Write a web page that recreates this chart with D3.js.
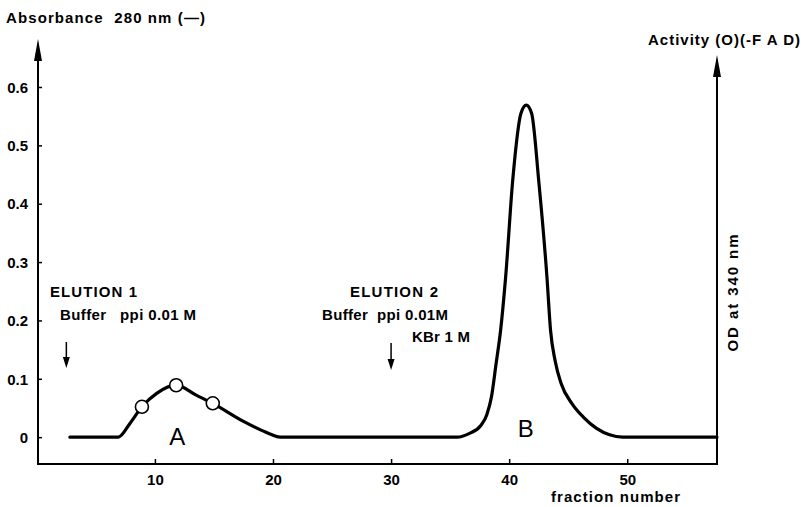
<!DOCTYPE html>
<html>
<head>
<meta charset="utf-8">
<script src="https://cdnjs.cloudflare.com/ajax/libs/d3/7.8.5/d3.min.js"></script>
<style>
  body { margin: 0; background: #fff; }
  text { font-family: "Liberation Sans", Arial, sans-serif; font-weight: bold; fill: #000; white-space: pre; }
</style>
</head>
<body>
<svg width="803" height="507"></svg>
<script>
// absorbance at 280 nm
var fractions  = [2.8, 6.9, 7.9, 8.9, 10.15, 11.8, 13.5, 14.9, 17.5, 19.7, 20.6,
                  35.6, 36.6, 37.6, 38.1, 38.5, 38.9, 39.28, 39.7, 40.3, 41.0, 41.45, 41.9, 42.5, 43.2, 43.5, 43.9,
                  44.4, 45.3, 46.3, 47.4, 48.5, 49.6, 57.6];
var absorbance = [0, 0, 0.024, 0.052, 0.075, 0.089, 0.072, 0.058, 0.027, 0.006, 0,
                  0, 0.006, 0.02, 0.038, 0.069, 0.127, 0.184, 0.274, 0.44, 0.555, 0.569, 0.555, 0.44, 0.274, 0.184, 0.13,
                  0.092, 0.058, 0.034, 0.015, 0.004, 0, 0];

// activity (circles)
var activityFractions = [8.9, 11.8, 14.9];
var activityValues = [0.052, 0.089, 0.058];

var xTicks = [10, 20, 30, 40, 50];
var yTicks = [0, 0.1, 0.2, 0.3, 0.4, 0.5, 0.6];

var svg = d3.select("svg");

var x = d3.scaleLinear().domain([0.1, 57.6]).range([38, 717]);
var y = d3.scaleLinear().domain([-0.046, 0.6]).range([464, 87]);

var x0 = x.range()[0], x1 = x.range()[1], yb = y.range()[0];

// axes lines
svg.append("line").attr("x1", x0).attr("x2", x0).attr("y1", yb + 1).attr("y2", 50)
    .attr("stroke", "#000").attr("stroke-width", 2);
svg.append("line").attr("x1", x0 - 1).attr("x2", x1 + 1).attr("y1", yb).attr("y2", yb)
    .attr("stroke", "#000").attr("stroke-width", 2);
svg.append("line").attr("x1", x1).attr("x2", x1).attr("y1", yb + 1).attr("y2", 65)
    .attr("stroke", "#000").attr("stroke-width", 2);

function arrowUp(cx, tip) {
    svg.append("path")
        .attr("d", "M" + cx + "," + tip + " L" + (cx - 4) + "," + (tip + 22) + " L" + (cx + 4) + "," + (tip + 22) + " Z")
        .attr("fill", "#000");
}
arrowUp(x0, 39);
arrowUp(x1, 55);

var yAxis = d3.axisLeft(y).tickValues(yTicks).tickSize(-4).tickPadding(10)
    .tickFormat(function(d) { return d === 0 ? "0" : d3.format(".1f")(d); });
var gy = svg.append("g").attr("transform", "translate(" + x0 + ",0)").call(yAxis);
gy.select(".domain").remove();
gy.selectAll("line").attr("stroke-width", 1.5);
gy.selectAll("text").attr("font-size", 15).attr("font-family", null).attr("dy", "0.35em");

var xAxis = d3.axisBottom(x).tickValues(xTicks).tickSize(-5).tickPadding(10);
var gx = svg.append("g").attr("transform", "translate(0," + yb + ")").call(xAxis);
gx.select(".domain").remove();
gx.selectAll("line").attr("stroke-width", 1.5);
gx.selectAll("text").attr("font-size", 15).attr("font-family", null);

// absorbance trace
var pts = fractions.map(function(f, i) { return [f, absorbance[i]]; });
var line = d3.line()
    .x(function(d) { return x(d[0]); })
    .y(function(d) { return y(d[1]); })
    .curve(d3.curveMonotoneX);
svg.append("path").datum(pts).attr("d", line)
    .attr("fill", "none").attr("stroke", "#000").attr("stroke-width", 3.2)
    .attr("stroke-linejoin", "round").attr("stroke-linecap", "round");

// activity circles
svg.selectAll(".act").data(activityFractions).enter().append("circle")
    .attr("class", "act")
    .attr("cx", function(d) { return x(d); })
    .attr("cy", function(d, i) { return y(activityValues[i]); })
    .attr("r", 6.5)
    .attr("fill", "#fff").attr("stroke", "#000").attr("stroke-width", 1.6);

// labels
function label(txt, px, py, size, len) {
    var t = svg.append("text").attr("x", px).attr("y", py).attr("font-size", size).text(txt);
    if (len) t.attr("textLength", len).attr("lengthAdjust", "spacing");
    return t;
}
label("Absorbance  280 nm (\u2014)", 6, 23, 15, 199);
label("Activity (O)(-F A D)", 648, 45, 15, 152);
label("ELUTION 1", 50, 297, 15, 87);
label("Buffer   ppi 0.01 M", 60, 320, 15, 136);
label("ELUTION 2", 350, 297, 15, 88);
label("Buffer  ppi 0.01M", 322, 320, 15, 126);
label("KBr 1 M", 412, 342, 15, 58);
label("fraction number", 551, 502, 15, 129);

svg.append("text").attr("transform", "translate(738,293) rotate(-90)")
    .attr("text-anchor", "middle").attr("font-size", 15)
    .attr("textLength", 117).attr("lengthAdjust", "spacing").text("OD at 340 nm");

// peak letters (thin)
svg.append("text").attr("x", x(11.9)).attr("y", 445).attr("text-anchor", "middle")
    .attr("font-size", 24).attr("style", "font-weight:normal").text("A");
svg.append("text").attr("x", x(41.4)).attr("y", 437).attr("text-anchor", "middle")
    .attr("font-size", 24).attr("style", "font-weight:normal").text("B");

// elution arrows
function arrowDown(fx, top, bottom) {
    svg.append("line").attr("x1", x(fx)).attr("x2", x(fx)).attr("y1", top).attr("y2", bottom - 6)
        .attr("stroke", "#000").attr("stroke-width", 1.5);
    svg.append("path")
        .attr("d", "M" + x(fx) + "," + bottom + " L" + (x(fx) - 3.5) + "," + (bottom - 11) + " L" + (x(fx) + 3.5) + "," + (bottom - 11) + " Z")
        .attr("fill", "#000");
}
arrowDown(2.5, 342, 368);
arrowDown(30, 343, 370);
</script>
</body>
</html>
